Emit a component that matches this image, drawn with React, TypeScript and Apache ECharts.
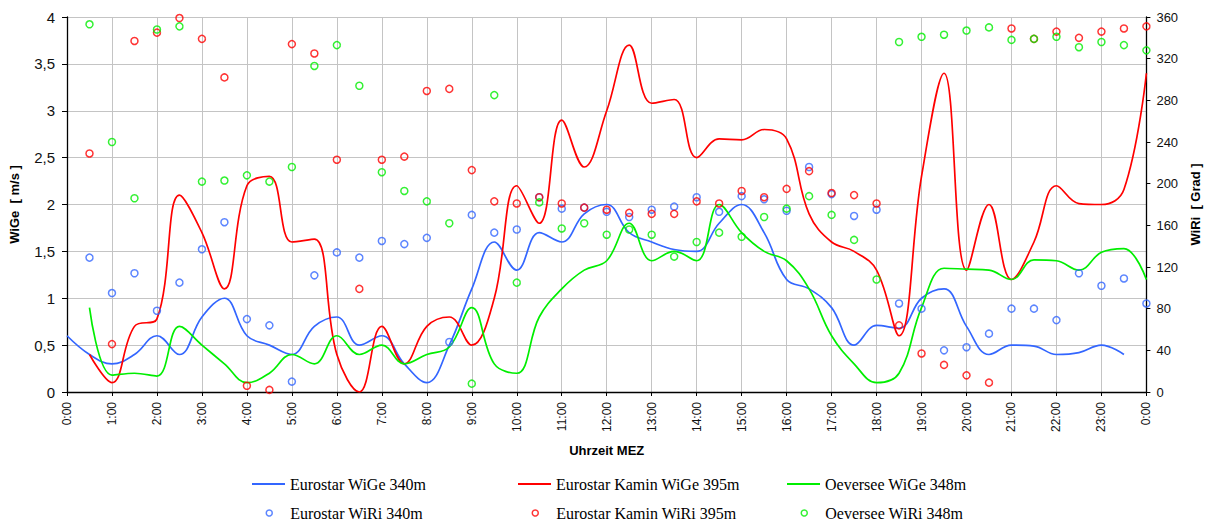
import React, { useEffect, useRef } from "react";
import * as echarts from "echarts";

// half-hour time slots (hours) from 0:00 to 24:00
const slotHours = [
  0, 0.5, 1, 1.5, 2, 2.5, 3, 3.5, 4, 4.5, 5, 5.5, 6, 6.5, 7, 7.5, 8, 8.5, 9, 9.5,
  10, 10.5, 11, 11.5, 12, 12.5, 13, 13.5, 14, 14.5, 15, 15.5, 16, 16.5, 17, 17.5,
  18, 18.5, 19, 19.5, 20, 20.5, 21, 21.5, 22, 22.5, 23, 23.5, 24,
];

// Eurostar WiGe 340m (m/s), 0:00 .. 23:30
const eurostarWiGe = [
  0.6, 0.4, 0.3, 0.4, 0.6, 0.4, 0.8, 1.0, 0.6, 0.5, 0.4, 0.7, 0.8, 0.5, 0.6, 0.3,
  0.1, 0.5, 1.1, 1.6, 1.3, 1.7, 1.6, 1.9, 2.0, 1.7, 1.6, 1.52, 1.5, 1.8, 2.0, 1.7,
  1.2, 1.1, 0.9, 0.5, 0.71, 0.68, 1.0, 1.1, 0.7, 0.4, 0.5, 0.49, 0.4, 0.42, 0.5, 0.4,
];

// Eurostar Kamin WiGe 395m (m/s), 0:30 .. 24:00
const kaminWiGe = [
  0.4, 0.1, 0.7, 0.78, 2.1, 1.7, 1.1, 2.2, 2.3, 1.6, 1.63, 0.4, 0.0, 0.7, 0.3, 0.7,
  0.8, 0.5, 1.0, 2.2, 1.8, 2.9, 2.4, 3.0, 3.7, 3.08, 3.12, 2.5, 2.7, 2.69, 2.8, 2.7,
  1.9, 1.6, 1.5, 1.3, 0.6, 2.3, 3.4, 1.3, 2.0, 1.2, 1.6, 2.2, 2.01, 2.0, 2.16, 3.4,
];

// Oeversee WiGe 348m (m/s), 0:30 .. 24:00
const oeverseeWiGe = [
  0.9, 0.18, 0.2, 0.17, 0.7, 0.5, 0.3, 0.1, 0.2, 0.4, 0.3, 0.6, 0.4, 0.5, 0.3, 0.4,
  0.48, 0.9, 0.3, 0.2, 0.8, 1.1, 1.3, 1.4, 1.8, 1.4, 1.5, 1.4, 2.0, 1.7, 1.5, 1.4,
  1.1, 0.6, 0.3, 0.1, 0.2, 0.9, 1.32, 1.31, 1.3, 1.2, 1.41, 1.4, 1.3, 1.49, 1.53, 1.2,
];

// Eurostar WiRi 340m (Grad), 0:30 .. 24:00
const eurostarWiRi = [
  129, 95, 114, 78, 105, 137, 163, 70, 64, 10, 112, 134, 129, 145, 142, 148,
  48, 170, 153, 156, 187, 176, 177, 173, 168, 175, 178, 187, 173, 188, 185, 174,
  216, 190, 169, 175, 85, 80, 40, 43, 56, 80, 80, 69, 114, 102, 109, 85,
];

// Eurostar Kamin WiRi 395m (Grad), 0:30 .. 24:00
const kaminWiRi = [
  229, 46, 337, 345, 359, 339, 302, 6, 2, 334, 325, 223, 99, 223, 226, 289,
  291, 213, 183, 181, 187, 181, 177, 175, 172, 171, 171, 183, 181, 193, 187, 195,
  212, 191, 189, 181, 64, 37, 26, 16, 9, 349, 339, 346, 340, 346, 349, 351,
];

// Oeversee WiRi 348m (Grad), 0:30 .. 24:00
const oeverseeWiRi = [
  353, 240, 186, 348, 351, 202, 203, 208, 202, 216, 313, 333, 294, 211, 193, 183,
  162, 8, 285, 105, 182, 157, 162, 151, 156, 151, 130, 144, 153, 149, 168, 176,
  188, 170, 146, 108, 336, 341, 343, 347, 350, 338, 339, 341, 331, 336, 333, 328,
];

const seriesNames = [
  "Eurostar WiGe 340m",
  "Eurostar Kamin WiGe 395m",
  "Oeversee WiGe 348m",
  "Eurostar WiRi 340m",
  "Eurostar Kamin WiRi 395m",
  "Oeversee WiRi 348m",
];

const BLUE = "#3366ff";
const RED = "#ff0000";
const GREEN = "#00ee00";
const SANS = "'Liberation Sans', Arial, sans-serif";
const SERIF = "'Liberation Serif', 'Times New Roman', serif";

const pair = (hours: number[], vals: number[]) => vals.map((v, i) => [hours[i], v]);

export default function App() {
  const ref = useRef<HTMLDivElement>(null);

  useEffect(() => {
    if (!ref.current) return;
    const chart = echarts.init(ref.current, null, { renderer: "svg" });
    const early = slotHours.slice(0, 48);
    const late = slotHours.slice(1);

    const lineSeries = (name: string, data: number[][], color: string) => ({
      name,
      type: "line",
      data,
      yAxisIndex: 0,
      smooth: 0.4,
      symbol: "none",
      showSymbol: false,
      lineStyle: { color, width: 1.7 },
      itemStyle: { color },
      z: 3,
    });
    const scatterSeries = (name: string, data: number[][], color: string) => ({
      name,
      type: "scatter",
      data,
      yAxisIndex: 1,
      symbol: "circle",
      symbolSize: 7,
      itemStyle: { color: "rgba(0,0,0,0)", borderColor: color, borderWidth: 1.5 },
      z: 4,
    });

    const colors = [BLUE, RED, GREEN];
    const colX = [252, 518, 787];
    const legends = seriesNames.map((name, i) => {
      const isScatter = i >= 3;
      const c = colors[i % 3];
      if (!isScatter) {
        return {
          data: [{ name, icon: "rect", itemStyle: { color: c, borderWidth: 0 } }],
          left: colX[i % 3],
          top: 476,
          padding: 0,
          itemGap: 5,
          itemWidth: 33,
          itemHeight: 2,
          selectedMode: false,
          textStyle: { fontFamily: SERIF, fontSize: 16, color: "#000" },
        };
      }
      return {
        data: [
          {
            name,
            icon: "circle",
            itemStyle: { color: "rgba(0,0,0,0)", borderColor: c, borderWidth: 1.5 },
          },
        ],
        left: colX[i % 3] + 13.5,
        top: 505,
        padding: 0,
        itemGap: 5,
        itemWidth: 6,
        itemHeight: 6,
        selectedMode: false,
        textStyle: { fontFamily: SERIF, fontSize: 16, color: "#000", padding: [0, 0, 0, 13] },
      };
    });

    chart.setOption({
      animation: false,
      backgroundColor: "#fff",
      color: [BLUE, RED, GREEN, BLUE, RED, GREEN],
      legend: legends,
      grid: { left: 67, right: 60, top: 17, bottom: 134, containLabel: false },
      xAxis: {
        type: "value",
        min: 0,
        max: 24,
        interval: 1,
        name: "Uhrzeit MEZ",
        nameLocation: "middle",
        nameGap: 52,
        nameTextStyle: { fontFamily: SANS, fontWeight: "bold", fontSize: 13, color: "#000" },
        axisLine: { show: true, onZero: false, lineStyle: { color: "#000", width: 1.3 } },
        axisTick: { show: true, length: 4, lineStyle: { color: "#000" } },
        axisLabel: {
          rotate: 90,
          margin: 10,
          fontFamily: SANS,
          fontSize: 12,
          color: "#111",
          formatter: (v: number) => `${v % 24}:00`,
        },
        splitLine: { show: true, lineStyle: { color: "#c4c4c4", width: 1 } },
      },
      yAxis: [
        {
          type: "value",
          min: 0,
          max: 4,
          interval: 0.5,
          position: "left",
          name: "WiGe  [ m/s ]",
          nameLocation: "middle",
          nameRotate: 90,
          nameGap: 46,
          nameTextStyle: { fontFamily: SANS, fontWeight: "bold", fontSize: 13, color: "#000" },
          axisLine: { show: true, lineStyle: { color: "#000", width: 1.3 } },
          axisTick: { show: true, length: 5, lineStyle: { color: "#000" } },
          axisLabel: {
            margin: 12,
            fontFamily: SANS,
            fontSize: 15,
            color: "#111",
            formatter: (v: number) => String(v).replace(".", ","),
          },
          splitLine: { show: true, lineStyle: { color: "#c4c4c4", width: 1 } },
        },
        {
          type: "value",
          min: 0,
          max: 360,
          interval: 40,
          position: "right",
          name: "WiRi  [ Grad ]",
          nameLocation: "middle",
          nameRotate: 90,
          nameGap: 40,
          nameTextStyle: { fontFamily: SANS, fontWeight: "bold", fontSize: 13, color: "#000" },
          axisLine: { show: true, lineStyle: { color: "#000", width: 1.3 } },
          axisTick: { show: true, length: 4, lineStyle: { color: "#000" } },
          axisLabel: { margin: 10, fontFamily: SANS, fontSize: 13, color: "#111" },
          splitLine: { show: false },
        },
      ],
      series: [
        lineSeries(seriesNames[0], pair(early, eurostarWiGe), BLUE),
        lineSeries(seriesNames[1], pair(late, kaminWiGe), RED),
        lineSeries(seriesNames[2], pair(late, oeverseeWiGe), GREEN),
        scatterSeries(seriesNames[3], pair(late, eurostarWiRi), BLUE),
        scatterSeries(seriesNames[4], pair(late, kaminWiRi), RED),
        scatterSeries(seriesNames[5], pair(late, oeverseeWiRi), GREEN),
      ],
    });
    return () => chart.dispose();
  }, []);

  return (
    <div
      ref={ref}
      style={{ position: "absolute", left: 0, top: 0, width: 1210, height: 526, background: "#fff" }}
    />
  );
}
